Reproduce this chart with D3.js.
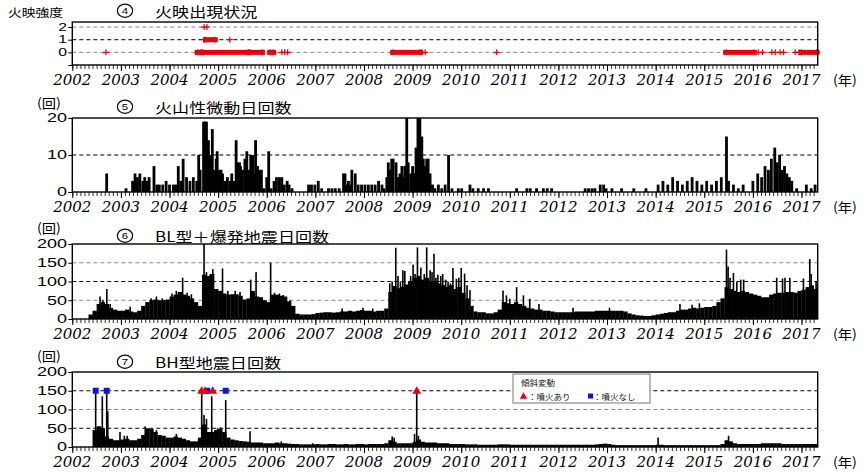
<!DOCTYPE html>
<html><head><meta charset="utf-8">
<script src="https://cdn.jsdelivr.net/npm/d3@7"></script>
<style>body{margin:0;background:#fff}svg{display:block}</style>
</head><body>
<svg id="c" width="867" height="472"></svg>
<script>
// ---------------- DATA ----------------
const years = d3.range(2002, 2018);            // tick labels 2002..2017
const startYear = 2002;                        // monthly arrays start Jan 2002
// ④ fire glow (火映) observations: dense periods and single days, by intensity
const glow0Periods = [[2004.58,2004.65],[2004.68,2005.62],[2005.65,2005.90],[2006.07,2006.13],[2008.60,2009.15],[2015.45,2016.02],[2017.00,2017.31]];
const glow0Days = [2002.693,2006.31,2006.37,2006.43,2009.19,2009.26,2010.73,2016.11,2016.20,2016.39,2016.46,2016.56,2016.63,2016.87,2016.95];
const glow1Periods = [[2004.75,2004.93]];
const glow1Days = [2004.71,2005.24];
const glow2Days = [2004.71,2004.77];
// ⑤ volcanic tremor daily counts [date, count]
const tremor = [
 [2002.707,5],[2003.105,1],[2003.24,3],[2003.29,5],[2003.34,4],[2003.39,5],[2003.45,3],[2003.49,4],[2003.54,3],[2003.58,4],
 [2003.68,7],[2003.74,2],[2003.79,2],[2003.86,2],[2003.93,3],[2004.0,2],[2004.08,2],[2004.13,2],[2004.18,7],[2004.23,3],
 [2004.28,9],[2004.35,4],[2004.42,3],[2004.49,4],[2004.56,3],[2004.60,10],[2004.63,6],[2004.70,19],[2004.73,19],[2004.76,19],
 [2004.80,14],[2004.83,10],[2004.88,17],[2004.91,6],[2004.96,9],[2004.98,11],[2005.02,6],[2005.06,6],[2005.09,5],[2005.14,3],
 [2005.19,4],[2005.24,3],[2005.28,5],[2005.33,3],[2005.37,14],[2005.40,8],[2005.44,8],[2005.46,7],[2005.50,6],[2005.55,9],
 [2005.59,11],[2005.64,6],[2005.67,10],[2005.71,10],[2005.74,5],[2005.77,14],[2005.81,7],[2005.85,6],[2005.89,6],[2005.94,1],
 [2006.0,4],[2006.04,11],[2006.09,1],[2006.15,3],[2006.20,4],[2006.26,4],[2006.31,4],[2006.36,2],[2006.42,3],[2006.46,2],
 [2006.52,1],[2006.86,2],[2006.92,2],[2006.99,2],[2007.06,3],[2007.13,1],[2007.27,1],[2007.34,1],[2007.41,1],[2007.49,1],
 [2007.58,5],[2007.61,5],[2007.64,2],[2007.68,3],[2007.71,2],[2007.75,6],[2007.82,5],[2007.88,2],[2007.95,2],[2008.02,2],
 [2008.09,2],[2008.16,2],[2008.23,2],[2008.30,3],[2008.37,2],[2008.41,1],[2008.47,4],[2008.50,8],[2008.54,6],[2008.57,9],
 [2008.60,9],[2008.66,8],[2008.71,4],[2008.74,5],[2008.78,7],[2008.81,4],[2008.84,7],[2008.88,20],[2008.91,8],[2008.96,5],
 [2009.0,7],[2009.03,5],[2009.07,12],[2009.11,20],[2009.14,15],[2009.15,20],[2009.19,15],[2009.22,9],[2009.26,7],[2009.29,9],
 [2009.32,9],[2009.36,5],[2009.41,2],[2009.46,1],[2009.53,2],[2009.60,1],[2009.67,2],[2009.74,10],[2009.81,1],[2009.94,1],
 [2010.01,1],[2010.18,2],[2010.24,1],[2010.35,1],[2010.46,1],[2010.56,1],[2011.14,1],[2011.35,1],[2011.42,1],[2011.55,1],
 [2011.69,1],[2011.77,1],[2011.86,1],[2012.55,1],[2012.62,1],[2012.69,1],[2012.75,1],[2012.86,2],[2012.93,2],[2012.98,1],
 [2013.1,1],[2013.3,1],[2013.55,1],[2013.8,1],[2014.05,2],[2014.15,3],[2014.25,2],[2014.35,4],[2014.45,3],[2014.55,2],
 [2014.65,3],[2014.75,4],[2014.85,3],[2014.95,2],[2015.05,3],[2015.15,2],[2015.25,3],[2015.35,4],[2015.457,15],[2015.5,3],
 [2015.6,2],[2015.7,1],[2015.8,2],[2016.0,3],[2016.1,5],[2016.18,4],[2016.25,7],[2016.32,6],[2016.38,9],[2016.45,12],
 [2016.5,8],[2016.55,10],[2016.6,6],[2016.65,7],[2016.7,5],[2016.75,4],[2016.8,3],[2016.9,1],[2017.1,2],[2017.2,1],[2017.28,2]
];
// ⑥ BL-type + explosion earthquakes: typical daily level per month, plus peak days
const blMonthly = [
 0,0,0,0,12,22,40,45,40,30,25,22,
 22,25,20,18,22,35,45,50,52,50,50,52,
 60,65,72,65,62,55,45,35,118,115,120,80,
 75,68,65,66,66,62,52,55,75,60,58,50,
 45,65,65,62,60,47,35,14,12,12,12,13,
 16,17,18,18,17,18,20,20,22,20,22,24,
 22,22,20,22,22,28,72,88,82,86,92,100,
 110,115,105,110,100,100,95,90,85,90,80,85,
 70,55,35,20,18,18,15,15,18,25,45,42,
 40,45,40,35,30,28,25,25,22,22,20,18,
 18,18,18,18,20,20,20,20,20,22,22,22,
 22,22,22,22,20,15,12,10,9,8,8,10,
 12,14,16,18,18,22,25,25,28,30,28,30,
 32,32,35,45,55,85,80,75,72,75,72,68,
 65,62,58,58,65,68,70,70,72,72,70,75,
 78,85,90,80
];
const blPeaks = [
 [2002.57,60],[2002.63,50],[2002.71,80],[2002.78,40],[2003.19,33],[2003.62,55],[2003.73,60],[2003.85,55],[2004.05,68],[2004.14,75],
 [2004.27,110],[2004.36,70],[2004.45,66],[2004.71,200],[2004.76,125],[2004.80,112],[2004.84,120],[2004.89,133],[2005.09,135],[2005.2,75],
 [2005.35,75],[2005.45,72],[2005.67,105],[2005.72,60],[2005.78,125],[2005.86,58],[2006.08,150],[2006.16,70],[2006.26,68],[2006.34,64],
 [2006.48,50],[2007.55,28],[2007.98,30],[2008.18,28],[2008.53,95],[2008.58,100],[2008.654,190],[2008.70,115],[2008.75,100],[2008.80,130],
 [2008.84,128],[2008.92,100],[2008.96,115],[2009.01,145],[2009.05,120],[2009.10,191],[2009.17,137],[2009.24,120],[2009.29,191],[2009.36,130],
 [2009.40,125],[2009.44,174],[2009.48,110],[2009.52,118],[2009.58,115],[2009.62,120],[2009.68,105],[2009.73,100],[2009.78,95],[2009.83,136],
 [2009.90,107],[2009.95,110],[2010.00,136],[2010.07,121],[2010.12,90],[2010.18,77],[2010.86,76],[2010.93,63],[2011.0,54],[2011.14,85],
 [2011.28,63],[2011.41,54],[2011.6,40],[2012.3,30],[2013.05,30],[2014.5,40],[2014.75,38],[2014.9,42],
 [2015.457,185],[2015.49,140],[2015.53,110],[2015.60,123],[2015.67,100],[2015.75,105],[2015.81,105],[2016.49,110],[2016.61,108],
 [2016.66,110],[2016.76,110],[2017.04,108],[2017.17,160],[2017.2,120],[2017.3,100]
];
// ⑦ BH-type earthquakes: typical daily level per month, plus peak days
const bhMonthly = [
 0,0,0,0,0,45,55,50,28,22,18,18,
 20,22,18,18,22,32,50,48,40,32,30,25,
 25,28,25,22,18,15,15,25,60,40,40,45,
 48,40,25,20,18,16,15,14,12,12,12,10,
 10,10,12,10,10,9,8,8,7,7,7,7,
 8,7,7,8,8,7,7,8,7,7,8,8,
 7,8,8,8,8,10,18,14,10,10,10,10,
 14,20,14,12,12,12,10,10,10,8,8,8,
 8,7,7,7,6,6,6,6,6,7,7,7,
 6,6,6,6,6,6,6,6,6,6,6,6,
 6,6,6,6,6,6,6,6,6,7,8,9,
 8,6,5,5,5,5,5,5,5,5,5,5,
 6,6,5,5,5,5,5,5,5,5,5,5,
 5,5,5,5,8,18,15,10,8,8,8,8,
 8,8,10,10,10,10,10,8,8,8,8,8,
 8,8,8,8
];
const bhPeaks = [
 [2002.481,150],[2002.54,55],[2002.617,135],[2002.708,150],[2002.73,95],[2002.981,40],[2003.07,30],[2003.13,30],[2003.5,55],[2003.63,48],
 [2003.73,45],[2004.14,35],[2004.662,150],[2004.71,85],[2004.76,75],[2004.868,135],[2004.99,50],[2005.05,52],[2005.156,125],[2005.656,42],
 [2006.3,15],[2006.95,10],[2008.58,28],[2008.62,25],[2009.04,35],[2009.085,150],[2009.12,30],[2014.05,25],[2015.5,30]
];
// tilt change events (傾斜変動), plotted at the 150 level
const tiltWithEruption = [2004.66,2004.73,2004.888,2009.085];
const tiltNoEruption = [2002.481,2002.708,2004.778,2005.156];
const tiltLevel = 150;

// ---------------- DRAW ----------------
const svg = d3.select('#c');
const RED = '#e8000b', BLUE = '#0a14e6';
const x = d3.scaleLinear().domain([2002, 2017 + 4/12]).range([72.3, 817.7]);
const months = d3.range(0, 184).map(i => startYear + i/12);

const panels = [
  {top:22, bottom:65, dom:[-1,2.4], ticks:[0,1,2], grid:[[2,'#888'],[1,'#000'],[0,'#888']], num:'4', title:'火映出現状況', tY:17, unit:null, fs:10.5},
  {top:118, bottom:192, dom:[0,20], ticks:[0,10,20], grid:[[10,'#000']], num:'5', title:'火山性微動日回数', tY:113, unit:108, fs:12},
  {top:244, bottom:319, dom:[0,200], ticks:[0,50,100,150,200], grid:[[150,'#888'],[100,'#000'],[50,'#888']], num:'6', title:'BL型＋爆発地震日回数', tY:242, unit:233, fs:12},
  {top:372, bottom:447, dom:[0,200], ticks:[0,50,100,150,200], grid:[[150,'#000'],[100,'#888'],[50,'#000']], num:'7', title:'BH型地震日回数', tY:368, unit:361, fs:12}
];
panels.forEach(p => p.y = d3.scaleLinear().domain(p.dom).range([p.bottom, p.top]));

function stext(parent, tx, ty, str, size, sx, opts={}) {
  const t = parent.append('text')
    .attr('transform', `translate(${tx},${ty}) scale(${sx},1)`)
    .attr('font-size', size)
    .attr('font-family', opts.family || '"Noto Sans CJK JP", sans-serif')
    .attr('text-anchor', opts.anchor || 'start')
    .attr('fill', opts.fill || '#000')
    .text(str);
  if (opts.style) t.attr('font-style', opts.style);
  if (opts.baseline) t.attr('dominant-baseline', opts.baseline);
  if (opts.weight) t.attr('font-weight', opts.weight);
  return t;
}

panels.forEach((p, pi) => {
  const g = svg.append('g');
  // grid
  p.grid.forEach(([v, c]) => {
    g.append('line').attr('x1', x.range()[0]).attr('x2', x.range()[1])
      .attr('y1', p.y(v)).attr('y2', p.y(v))
      .attr('stroke', c).attr('stroke-width', 1).attr('stroke-dasharray', '4,3');
  });
  // x axis ticks (monthly minor, yearly major)
  const ax = g.append('g').attr('transform', `translate(0,${p.bottom})`);
  ax.call(d3.axisBottom(x).tickValues(months).tickSize(4).tickFormat(''))
    .call(a => a.select('.domain').remove());
  ax.selectAll('line').attr('stroke-width', 0.8);
  const ax2 = g.append('g').attr('transform', `translate(0,${p.bottom})`);
  ax2.call(d3.axisBottom(x).tickValues(years).tickSize(6).tickFormat(''))
    .call(a => a.select('.domain').remove());
  ax2.selectAll('line').attr('stroke-width', 1);
  // year labels
  years.forEach(yr => {
    g.append('text').attr('x', x(yr)).attr('y', p.bottom + 20)
      .attr('text-anchor', 'middle').attr('font-family', '"DejaVu Serif", serif')
      .attr('font-style', 'italic').attr('font-size', 15).text(yr);
  });
  stext(g, 833, p.bottom + 20, '(年)', 13, 1.1);
  // y axis
  const ay = g.append('g').attr('transform', `translate(${x.range()[0]},0)`);
  ay.call(d3.axisLeft(p.y).tickValues(pi === 0 ? [-1,0,1,2] : p.ticks).tickSize(4).tickFormat(''))
    .call(a => a.select('.domain').remove());
  p.ticks.forEach(v => {
    stext(g, 67, p.y(v), String(v), p.fs, 1.5, {anchor:'end', family:'"Liberation Sans", Arial, sans-serif', baseline:'central'});
  });
  // titles: circled number + title
  g.append('ellipse').attr('cx', 125).attr('cy', p.tY - 6.3).attr('rx', 7.6).attr('ry', 6.6)
    .attr('fill', 'none').attr('stroke', '#000').attr('stroke-width', 1.2);
  stext(g, 125, p.tY - 6.0, p.num, 9.5, 1.2, {anchor:'middle', family:'"Liberation Sans", Arial, sans-serif', baseline:'central'});
  stext(g, 155, p.tY, p.title, 14, 1.22);
  if (p.unit) stext(g, 37, p.unit, '(回)', 13, 1.1);
});
stext(svg, 8, 17, '火映強度', 11.5, 1.2);

// ---- panel ④ fire glow
(function(){
  const p = panels[0], g = svg.append('g');
  const rows = [[0, glow0Periods, glow0Days], [1, glow1Periods, glow1Days], [2, [], glow2Days]];
  rows.forEach(([lvl, per, days]) => {
    g.selectAll(null).data(per).join('rect')
      .attr('x', d => x(d[0]) - 3).attr('width', d => x(d[1]) - x(d[0]) + 6)
      .attr('y', p.y(lvl) - 2.5).attr('height', 5).attr('fill', RED);
    const allDays = days.concat(per.flat());
    g.selectAll(null).data(allDays).join('path')
      .attr('d', d => `M${x(d)-3},${p.y(lvl)}h6M${x(d)},${p.y(lvl)-3}v6`)
      .attr('stroke', RED).attr('stroke-width', 1.2).attr('fill', 'none');
  });
})();

// ---- panel ⑤ tremor
(function(){
  const p = panels[1], g = svg.append('g');
  g.selectAll(null).data(tremor).join('rect')
    .attr('x', d => x(d[0]) - 1.4).attr('width', 2.8)
    .attr('y', d => p.y(d[1])).attr('height', d => p.y(0) - p.y(d[1])).attr('fill', '#000');
})();

// ---- panels ⑥ ⑦ monthly mass + peak days
function drawCounts(p, monthly, peaks) {
  const g = svg.append('g');
  g.selectAll(null).data(monthly.map((v, i) => [startYear + i/12, v])).join('rect')
    .attr('x', d => x(d[0])).attr('width', d => x(d[0] + 1/12) - x(d[0]) + 0.3)
    .attr('y', d => p.y(d[1])).attr('height', d => p.y(0) - p.y(d[1])).attr('fill', '#000');
  g.selectAll(null).data(peaks).join('rect')
    .attr('x', d => x(d[0]) - 0.8).attr('width', 1.6)
    .attr('y', d => p.y(d[1])).attr('height', d => p.y(0) - p.y(d[1])).attr('fill', '#000');
}
drawCounts(panels[2], blMonthly, blPeaks);
drawCounts(panels[3], bhMonthly, bhPeaks);

// tilt markers
(function(){
  const p = panels[3], g = svg.append('g');
  const sym = d3.symbol().type(d3.symbolTriangle).size(34);
  g.selectAll(null).data(tiltNoEruption).join('rect')
    .attr('x', d => x(d) - 3).attr('y', p.y(tiltLevel) - 3).attr('width', 6).attr('height', 6).attr('fill', BLUE);
  g.selectAll(null).data(tiltWithEruption).join('path')
    .attr('d', sym).attr('transform', d => `translate(${x(d)},${p.y(tiltLevel) + 0.5})`).attr('fill', RED);
  // legend
  const lg = svg.append('g');
  lg.append('rect').attr('x', 513).attr('y', 374).attr('width', 137).attr('height', 29)
    .attr('fill', '#fff').attr('stroke', '#777').attr('stroke-width', 1);
  stext(lg, 521, 386, '傾斜変動', 8.5, 1.0, {fill:'#222'});
  lg.append('path').attr('d', d3.symbol().type(d3.symbolTriangle).size(24)())
    .attr('transform', 'translate(523.5,396.5)').attr('fill', RED);
  stext(lg, 528, 399.5, '：噴火あり', 8.5, 1.0, {fill:'#222'});
  lg.append('rect').attr('x', 588).attr('y', 393.5).attr('width', 5).attr('height', 5).attr('fill', BLUE);
  stext(lg, 593, 399.5, '：噴火なし', 8.5, 1.0, {fill:'#222'});
})();

// frames
panels.forEach(p => {
  svg.append('rect').attr('x', x.range()[0]).attr('y', p.top)
    .attr('width', x.range()[1] - x.range()[0]).attr('height', p.bottom - p.top)
    .attr('fill', 'none').attr('stroke', '#000').attr('stroke-width', 1.4);
});
</script>
</body></html>
